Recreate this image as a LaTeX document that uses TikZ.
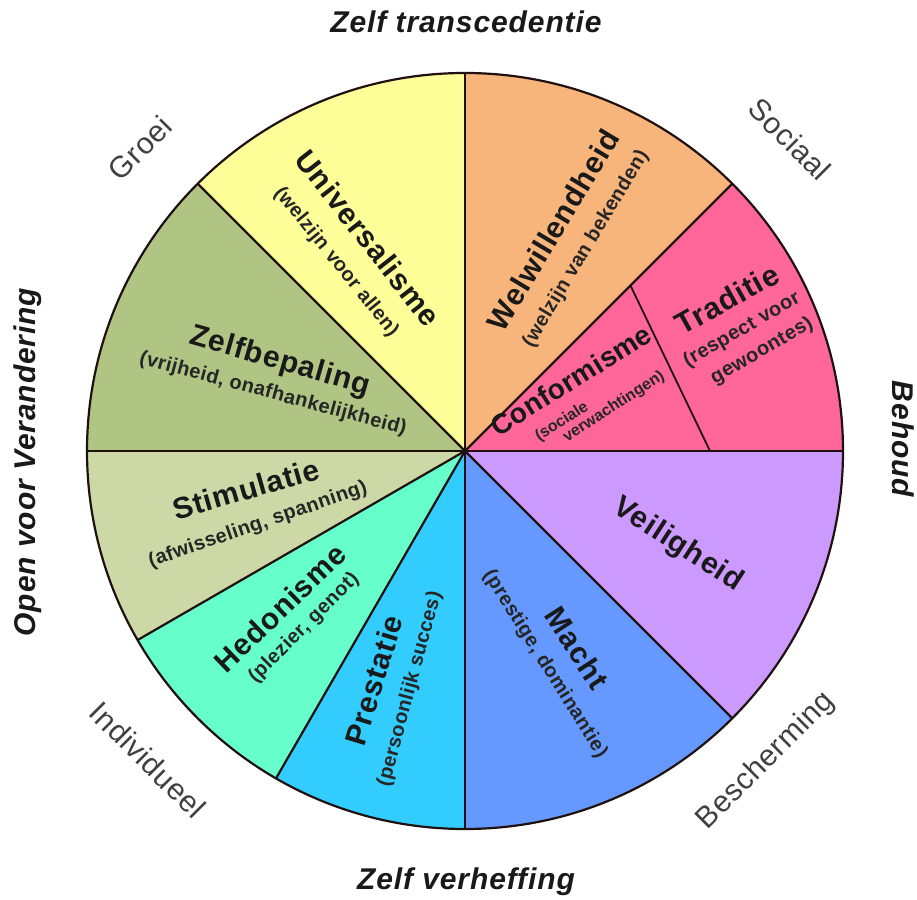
\documentclass[tikz,border=0pt]{standalone}
\usepackage{fontspec}
\setmainfont{Liberation Sans}
\usetikzlibrary{calc}
\begin{document}
\begin{tikzpicture}[x=1pt,y=1pt,
  mainlbl/.style={font=\bfseries\fontsize{30}{32}\selectfont\addfontfeature{LetterSpace=3},text=black!90,inner sep=0pt},
  conflbl/.style={font=\bfseries\fontsize{28}{30}\selectfont\addfontfeature{LetterSpace=1},text=black!90,inner sep=0pt},
  sublbl/.style={font=\bfseries\fontsize{20}{22}\selectfont\addfontfeature{LetterSpace=2},text=black!85,inner sep=0pt},
  smallsub/.style={font=\bfseries\fontsize{16}{18}\selectfont,text=black!85,inner sep=0pt},
  outerlbl/.style={font=\bfseries\itshape\fontsize{30}{32}\selectfont\addfontfeature{LetterSpace=3},text=black!90,inner sep=0pt},
  cornerlbl/.style={font=\fontsize{30}{32}\selectfont\addfontfeature{LetterSpace=2},text=black!75,inner sep=0pt}]
\definecolor{lineclr}{HTML}{201010}
\definecolor{cUni}{HTML}{FFFF99}
\definecolor{cWel}{HTML}{F7B57B}
\definecolor{cTra}{HTML}{FF6699}
\definecolor{cVei}{HTML}{CC99FF}
\definecolor{cMac}{HTML}{6699FF}
\definecolor{cPre}{HTML}{33CCFF}
\definecolor{cHed}{HTML}{66FFCC}
\definecolor{cSti}{HTML}{CCD9A6}
\definecolor{cZel}{HTML}{B0C484}
\useasboundingbox (0,0) rectangle (917,899);
\coordinate (C) at (465,448);
\def\R{378}
% sectors
\foreach \a/\b/\c in {90/135/cUni,135/180/cZel,180/210/cSti,210/240/cHed,240/270/cPre,270/315/cMac,315/360/cVei,0/45/cTra,45/90/cWel}{
  \fill[\c] (C) -- ++(\a:\R) arc[start angle=\a,end angle=\b,radius=\R] -- cycle;
}
% conformisme divider
\coordinate (k1) at ($(C)+(45:234)$);
\coordinate (k2) at ($(C)+(0:245)$);
\draw[lineclr,line width=1.8pt] (k1) -- (k2);
% radial lines
\foreach \a in {0,45,90,135,180,210,240,270,315}{
  \draw[lineclr,line width=2.2pt] (C) -- ++(\a:\R);
}
\draw[lineclr,line width=2.2pt] (C) circle[radius=\R];
% sector labels
\node[mainlbl,rotate=-52] (uni) at (368,661) {Universalisme};
\node[sublbl,rotate=-51] (unis) at (336,637) {(welzijn voor allen)};
\node[mainlbl,rotate=59] (wel) at (553,669) {Welwillendheid};
\node[sublbl,rotate=59] (wels) at (586,650) {(welzijn van bekenden)};
\node[mainlbl,rotate=29] (tra) at (727,600) {Traditie};
\node[sublbl,rotate=30] (tras1) at (742,569) {(respect voor};
\node[sublbl,rotate=30] (tras2) at (762,548) {gewoontes)};
\node[conflbl,rotate=32] (con) at (571,519) {Conformisme};
\node[smallsub,rotate=33] (cons1) at (562,477) {(sociale};
\node[smallsub,rotate=33] (cons2) at (614,492) {verwachtingen)};
\node[mainlbl,rotate=-16] (zel) at (280,537) {Zelfbepaling};
\node[sublbl,rotate=-15] (zels) at (273,505) {(vrijheid, onafhankelijkheid)};
\node[mainlbl,rotate=16] (sti) at (246,410) {Stimulatie};
\node[sublbl,rotate=19] (stis) at (258,374) {(afwisseling, spanning)};
\node[mainlbl,rotate=44] (hed) at (280,291) {Hedonisme};
\node[sublbl,rotate=45] (heds) at (304,271) {(plezier, genot)};
\node[mainlbl,rotate=73] (pre) at (374,219) {Prestatie};
\node[sublbl,rotate=75] (pres) at (410,210) {(persoonlijk succes)};
\node[mainlbl,rotate=-57] (mac) at (577,251) {Macht};
\node[sublbl,rotate=-58] (macs) at (545,235) {(prestige, dominantie)};
\node[mainlbl,rotate=-33] (vei) at (678,354) {Veiligheid};
% outer labels
\node[outerlbl] (top) at (466,877) {Zelf transcedentie};
\node[outerlbl] (bot) at (466,17) {Zelf verheffing};
\node[outerlbl,rotate=-90] (rgt) at (903,460) {Behoud};
\node[outerlbl,rotate=90] (lft) at (28,437) {Open voor Verandering};
\node[cornerlbl,rotate=45] (groei) at (140,751) {Groei};
\node[cornerlbl,rotate=-45] (soc) at (790,760) {Sociaal};
\node[cornerlbl,rotate=45] (besch) at (766,138) {Bescherming};
\node[cornerlbl,rotate=-45] (indiv) at (148,139) {Individueel};
\end{tikzpicture}
\end{document}
